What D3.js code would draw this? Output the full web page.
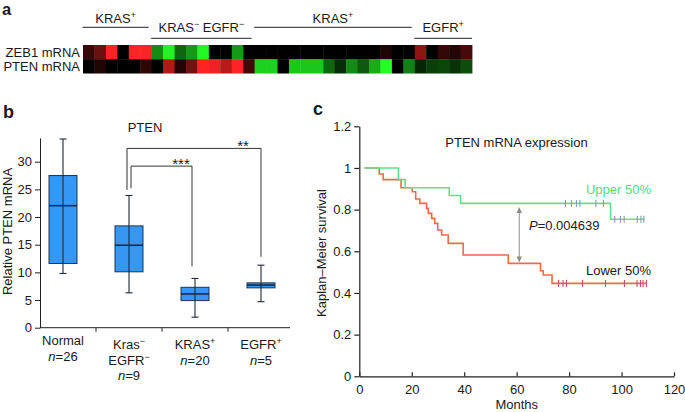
<!DOCTYPE html>
<html><head><meta charset="utf-8">
<script src="https://cdn.jsdelivr.net/npm/d3@7"></script>
<style>
body{margin:0;background:#fff}
svg text{font-family:"Liberation Sans",Arial,Helvetica,sans-serif;fill:#1a1a1a}
</style></head><body>
<svg id="chart" width="685" height="412"></svg>
<script>
// ---------- Panel a: heatmap ----------
const heatSamples = d3.range(1, 35).map(i => "S" + i);
const heatRows = ["ZEB1 mRNA", "PTEN mRNA"];
const zeb1Values = [0.22, 0.42, 1.0, 0, 1.0, 1.0, -0.55, -0.95, -0.4, -0.6, -0.97, 0, 0, -0.6,
  0, 0, 0, 0, 0, 0, 0, 0, 0, 0, 0, 0, 0.12, 0, 0, 0.55, 0, 0.2, 0.14, 0.28];
const ptenValues = [0, 0.12, 0, 0, 0, 0.18, 0, 0.7, 0.14, 0.45, 1.0, 0.95, 0.72, 1.0, 0.25,
  -0.82, -0.82, 0, -0.78, -0.78, -0.78, -0.4, -0.18, -0.55, -0.35, -0.68, -1.0, 0, -0.5,
  -0.15, -0.25, -0.27, -0.2, -0.3];
const heatGroupLabels = ["KRAS^{+}", "KRAS^{−} EGFR^{−}", "KRAS^{+}", "EGFR^{+}"];
const heatGroupFirst = [0, 6, 15, 29];
const heatGroupLast = [5, 14, 28, 33];

// ---------- Panel b: box plot ----------
const boxCategories = ["Normal", "Kras^{−}|EGFR^{−}", "KRAS^{+}", "EGFR^{+}"];
const boxN = [26, 9, 20, 5];
const boxMin = [9.8, 6.3, 1.9, 4.7];
const boxQ1 = [11.6, 10.1, 4.9, 7.2];
const boxMedian = [22.05, 14.9, 6.1, 7.7];
const boxQ3 = [27.5, 18.4, 7.3, 8.1];
const boxMax = [34.1, 23.9, 8.9, 11.3];
const boxTicks = [0, 5, 10, 15, 20, 25, 30];
const sigFrom = [1, 1];
const sigTo = [2, 3];
const sigLabels = ["***", "**"];
const sigTop = [29.2, 32.4];
const sigLeftEnd = [25.2, 24.9];
const sigRightEnd = [11.1, 12.8];

// ---------- Panel c: Kaplan-Meier ----------
const kmUpperTimes = [2, 14.9, 17.5, 34.3, 38.6, 95.8, 108.8];
const kmUpperSurv = [1, 0.944, 0.905, 0.868, 0.830, 0.754, 0.754];
const kmUpperCensor = [78.6, 80.9, 82.8, 84.1, 90.2, 93.1, 97.4, 99.6, 101.0, 106.0, 107.4, 108.5];
const kmLowerTimes = [2, 7.6, 9.1, 15.9, 20.2, 21.5, 23.1, 25.7, 26.3, 27.6, 28.8, 29.9, 31.4, 33.9,
  39.6, 56.8, 69.1, 70.1, 73.5, 109.7];
const kmLowerSurv = [1, 0.971, 0.944, 0.905, 0.886, 0.851, 0.830, 0.806, 0.782, 0.758, 0.734, 0.702,
  0.678, 0.638, 0.582, 0.542, 0.507, 0.486, 0.446, 0.446];
const kmLowerCensor = [76, 77.7, 79, 85.1, 93.9, 101.1, 105.9, 107.2, 108.2, 109.5];
const kmXTicks = [0, 20, 40, 60, 80, 100, 120];
const kmYTicks = [0, 0.2, 0.4, 0.6, 0.8, 1, 1.2];
const kmYTickLabels = ["0", "0.2", "0.4", "0.6", "0.8", "1", "1.2"];
const kmPValue = "0.004639";
const kmArrowMonth = 61;

// ---------- helpers ----------
const svg = d3.select("#chart");
const FS = 13;
function rich(sel, str) {
  const parts = str.split(/(\^\{[^}]*\}|~[^~]+~)/).filter(s => s.length);
  let up = false;
  parts.forEach(p => {
    const t = sel.append("tspan");
    if (p.startsWith("^{")) {
      t.text(p.slice(2, -1)).attr("font-size", 9).attr("dy", -5);
      up = true;
    } else {
      if (p.startsWith("~")) { t.text(p.slice(1, -1)).attr("font-style", "italic"); }
      else t.text(p);
      if (up) { t.attr("dy", 5); up = false; }
    }
  });
  return sel;
}
function label(x, y, str, anchor, size, weight) {
  const t = svg.append("text").attr("x", x).attr("y", y)
    .attr("text-anchor", anchor || "start").attr("font-size", size || FS);
  if (weight) t.attr("font-weight", weight);
  return rich(t, str);
}

// ---------- Panel a ----------
label(2, 15, "a", "start", 16.5, "bold");
const hx = d3.scaleBand().domain(d3.range(heatSamples.length)).range([83, 472]);
const hy = d3.scaleBand().domain(heatRows).range([45, 73.5]);
const heatColor = d3.scaleLinear().domain([-1, 0, 1]).range(["#24ff24", "#000000", "#ff2424"]);
const heatMatrix = [zeb1Values, ptenValues];
heatRows.forEach((r, ri) => {
  svg.append("g").selectAll("rect").data(heatMatrix[ri]).join("rect")
    .attr("x", (d, i) => hx(i)).attr("y", hy(r))
    .attr("width", hx.bandwidth() + 0.4).attr("height", hy.bandwidth() + (ri === 0 ? 0.4 : 0))
    .attr("fill", d => heatColor(d));
  svg.append("text").attr("x", 80).attr("y", hy(r) + hy.bandwidth() / 2).attr("dy", "0.36em")
    .attr("text-anchor", "end").attr("font-size", FS).text(r);
});
heatGroupLabels.forEach((g, gi) => {
  const tier = gi % 2;
  const first = heatGroupFirst[gi], last = heatGroupLast[gi];
  const x0 = hx(first) - 0.5;
  const x1 = last === heatSamples.length - 1 ? hx(last) + hx.bandwidth() : hx(last) + hx.bandwidth() - 3;
  const ly = tier ? 38.3 : 27.3;
  svg.append("line").attr("x1", x0).attr("x2", x1).attr("y1", ly).attr("y2", ly)
    .attr("stroke", "#222").attr("stroke-width", 1);
  label((x0 + x1) / 2, tier ? 32.3 : 23, g, "middle");
});

// ---------- Panel b ----------
label(3, 118.3, "b", "start", 18, "bold");
const bx = d3.scalePoint().domain(boxCategories).range([63, 261]);
const by = d3.scaleLinear().domain([0, 34.3]).range([327.7, 137.9]);
const bAxisX = 40, bAxisEnd = 290;
const yAxB = svg.append("g").attr("transform", `translate(${bAxisX},0)`)
  .call(d3.axisLeft(by).tickValues(boxTicks).tickSize(5).tickSizeOuter(0).tickPadding(3));
yAxB.attr("font-size", FS).attr("font-family", null);
yAxB.selectAll("path,line").attr("stroke", "#222");
svg.append("line").attr("x1", bAxisX).attr("x2", bAxisEnd).attr("y1", by(0)).attr("y2", by(0))
  .attr("stroke", "#222");
for (let i = 0; i < boxCategories.length - 1; i++) {
  const sx = (bx(boxCategories[i]) + bx(boxCategories[i + 1])) / 2;
  svg.append("line").attr("x1", sx).attr("x2", sx).attr("y1", by(0)).attr("y2", by(0) + 4).attr("stroke", "#222");
}
const BW = 28;
boxCategories.forEach((c, i) => {
  const cx = bx(c);
  const g = svg.append("g");
  g.append("rect").attr("x", cx - BW / 2).attr("y", by(boxQ3[i])).attr("width", BW)
    .attr("height", by(boxQ1[i]) - by(boxQ3[i])).attr("fill", "#3497f4")
    .attr("stroke", "#1d3550").attr("stroke-width", 1);
  g.append("line").attr("x1", cx).attr("x2", cx).attr("y1", by(boxMin[i])).attr("y2", by(boxMax[i]))
    .attr("stroke", "#1d2a3a").attr("stroke-width", 1.1);
  [boxMin[i], boxMax[i]].forEach(v => g.append("line").attr("x1", cx - 3.5).attr("x2", cx + 3.5)
    .attr("y1", by(v)).attr("y2", by(v)).attr("stroke", "#1d2a3a").attr("stroke-width", 1.1));
  g.append("line").attr("x1", cx - BW / 2).attr("x2", cx + BW / 2)
    .attr("y1", by(boxMedian[i])).attr("y2", by(boxMedian[i])).attr("stroke", "#182b42").attr("stroke-width", 1.6);
  const lines = c.split("|").concat([`~n~=${boxN[i]}`]);
  const y0 = i === 0 ? 345 : 349;
  lines.forEach((ln, li) => label(cx, y0 + li * 15.6, ln, "middle"));
});
sigLabels.forEach((s, k) => {
  const span = sigTo[k] - sigFrom[k];
  const lx = bx(boxCategories[sigFrom[k]]) + (span === 1 ? 2 : -2);
  const rx = bx(boxCategories[sigTo[k]]) + (span === 1 ? -3 : 0);
  svg.append("path")
    .attr("d", `M${lx},${by(sigLeftEnd[k])}V${by(sigTop[k])}H${rx}V${by(sigRightEnd[k])}`)
    .attr("fill", "none").attr("stroke", "#333").attr("stroke-width", 1);
  svg.append("text").attr("x", rx - (span === 1 ? 11 : 18)).attr("y", by(sigTop[k]) + 2.5)
    .attr("text-anchor", "middle").attr("font-size", 15).text(s);
});
label(145, 131.7, "PTEN", "middle");
svg.append("text").attr("transform", "translate(12,231.5) rotate(-90)")
  .attr("text-anchor", "middle").attr("font-size", FS).text("Relative PTEN mRNA");

// ---------- Panel c ----------
label(313, 115, "c", "start", 18, "bold");
const kx = d3.scaleLinear().domain([0, 120]).range([359.3, 674]);
const ky = d3.scaleLinear().domain([0, 1.2]).range([376.3, 126.3]);
const yAxC = svg.append("g").attr("transform", `translate(${kx(0)},0)`)
  .call(d3.axisLeft(ky).tickValues(kmYTicks).tickFormat((d, i) => kmYTickLabels[i])
    .tickSize(5).tickSizeOuter(0).tickPadding(3));
yAxC.attr("font-size", FS).attr("font-family", null);
const xAxC = svg.append("g").attr("transform", `translate(0,${ky(0)})`)
  .call(d3.axisBottom(kx).tickValues(kmXTicks).tickSizeInner(-4).tickSizeOuter(0).tickPadding(8));
xAxC.attr("font-size", FS).attr("font-family", null);
[yAxC, xAxC].forEach(a => a.selectAll("path,line").attr("stroke", "#222").attr("stroke-width", 1.2));

const stepLine = d3.line().x(d => kx(d[0])).y(d => ky(d[1])).curve(d3.curveStepAfter);
function survAt(times, surv, t) {
  let s = surv[0];
  for (let i = 0; i < times.length; i++) if (times[i] <= t) s = surv[i];
  return s;
}
const kmSeries = [
  { times: kmUpperTimes, surv: kmUpperSurv, censor: kmUpperCensor, color: "#5ee28e", tick: "#8e97b4" },
  { times: kmLowerTimes, surv: kmLowerSurv, censor: kmLowerCensor, color: "#f06a48", tick: "#c4507a" }
];
[kmSeries[1], kmSeries[0]].forEach(sr => {
  svg.append("path").attr("d", stepLine(sr.times.map((t, i) => [t, sr.surv[i]])))
    .attr("fill", "none").attr("stroke", sr.color).attr("stroke-width", 1.6);
  sr.censor.forEach(t => {
    const yy = ky(survAt(sr.times, sr.surv, t));
    svg.append("line").attr("x1", kx(t)).attr("x2", kx(t)).attr("y1", yy - 3.5).attr("y2", yy + 3.5)
      .attr("stroke", sr.tick).attr("stroke-width", 1.1);
  });
});
const aTop = ky(survAt(kmUpperTimes, kmUpperSurv, kmArrowMonth)) + 3.5;
const aBot = ky(survAt(kmLowerTimes, kmLowerSurv, kmArrowMonth)) - 1;
const ax = kx(kmArrowMonth);
svg.append("line").attr("x1", ax).attr("x2", ax).attr("y1", aTop + 4).attr("y2", aBot - 4)
  .attr("stroke", "#9a9a9a").attr("stroke-width", 1.1);
svg.append("path").attr("d", `M${ax},${aTop}l-2.6,6h5.2z`).attr("fill", "#8a8a8a");
svg.append("path").attr("d", `M${ax},${aBot}l-2.6,-6h5.2z`).attr("fill", "#8a8a8a");

label(516.5, 146.5, "PTEN mRNA expression", "middle");
label(651, 193.5, "Upper 50%", "end").attr("fill", "#52dc84").selectAll("tspan").style("fill", "#52dc84");
label(651, 275, "Lower 50%", "end");
label(529, 230, `~P~=${kmPValue}`, "start");
label(516.7, 409, "Months", "middle");
svg.append("text").attr("transform", "translate(325.6,253) rotate(-90)")
  .attr("text-anchor", "middle").attr("font-size", FS).text("Kaplan–Meier survival");
</script>
</body></html>
